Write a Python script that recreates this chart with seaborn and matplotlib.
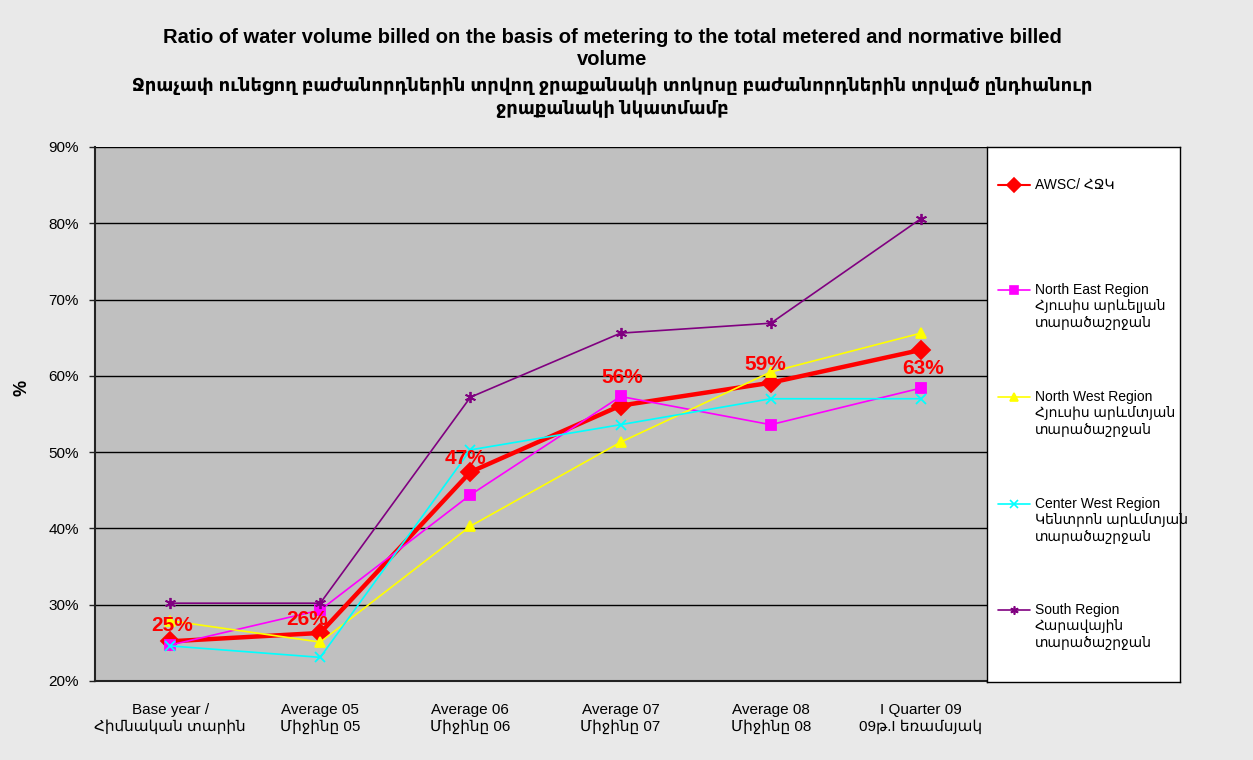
"""
Ratio of metered billed water volume to total billed volume, by region.
"""

import pandas as pd
import matplotlib
matplotlib.use("Agg")
import matplotlib.pyplot as plt
import seaborn as sns


# Datos
categories = [
    "Base year /\nՀիմնական տարին",
    "Average 05\nՄիջինը 05",
    "Average 06\nՄիջինը 06",
    "Average 07\nՄիջինը 07",
    "Average 08\nՄիջինը 08",
    "I Quarter 09\n09թ.I եռամսյակ",
]
awsc = [25.2, 26.3, 47.4, 56.1, 59.1, 63.4]
north_east = [24.7, 29.3, 44.4, 57.3, 53.6, 58.4]
north_west = [27.9, 25.1, 40.3, 51.3, 60.5, 65.6]
center_west = [24.6, 23.1, 50.3, 53.6, 57.0, 57.0]
south = [30.2, 30.2, 57.2, 65.6, 66.9, 80.6]
awsc_labels = ["25%", "26%", "47%", "56%", "59%", "63%"]

series_names = [
    "AWSC/ ՀՋԿ",
    "North East Region\nՀյուսիս արևելյան\nտարածաշրջան",
    "North West Region\nՀյուսիս արևմտյան\nտարածաշրջան",
    "Center West Region\nԿենտրոն արևմտյան\nտարածաշրջան",
    "South Region\nՀարավային\nտարածաշրջան",
]
series_values = [awsc, north_east, north_west, center_west, south]

TITLE_EN = ("Ratio of water volume billed on the basis of metering to the total metered and normative billed\n"
            "volume")
TITLE_HY = ("Ջրաչափ ունեցող բաժանորդներին տրվող ջրաքանակի տոկոսը բաժանորդներին տրված ընդհանուր\n"
            "ջրաքանակի նկատմամբ")

# Estilos
styles = [
    dict(color="#FF0000", marker="D", lw=3.2, ms=9),
    dict(color="#FF00FF", marker="s", lw=1.2, ms=7),
    dict(color="#FFFF00", marker="^", lw=1.2, ms=7),
    dict(color="#00FFFF", marker="x", lw=1.2, ms=7),
    dict(color="#800080", marker=(6, 2, 0), lw=1.2, ms=8),
]
# desplazamiento de etiquetas (px) respecto al punto
label_offsets = [(2, 16), (-13, 13), (-5, 13), (2, 28), (-5, 18), (2, -19)]
# posición vertical (px) de cada entrada de la leyenda
legend_rows = [185, 290, 397, 504, 610]

sns.set_style("white")
plt.rcParams["font.family"] = ["Liberation Sans", "DejaVu Sans"]
plt.rcParams["text.color"] = "black"
plt.rcParams["axes.labelcolor"] = "black"
plt.rcParams["xtick.color"] = "black"
plt.rcParams["ytick.color"] = "black"

fig = plt.figure(figsize=(12.53, 7.6), dpi=100, facecolor="#e9e9e9")
ax = fig.add_axes([95 / 1253, 1 - 681 / 760, 901 / 1253, 534 / 760])
ax.set_facecolor("#C0C0C0")

for name, vals, st in zip(series_names, series_values, styles):
    df = pd.DataFrame({"cat": categories, "val": vals})
    sns.lineplot(data=df, x="cat", y="val", ax=ax, color=st["color"],
                 marker=st["marker"], markersize=st["ms"], linewidth=st["lw"],
                 markeredgecolor=st["color"], markeredgewidth=1.3,
                 sort=False, legend=False)

for i, (v, txt) in enumerate(zip(awsc, awsc_labels)):
    dx, dy = label_offsets[i]
    ax.annotate(txt, (i, v), xytext=(dx * 0.72, dy * 0.72), textcoords="offset points",
                ha="center", va="center", color="#FF0000", fontsize=15,
                fontweight="bold")

ax.set_xlim(-0.5, 5.5)
ax.set_ylim(20, 90)
ax.set_yticks(range(20, 91, 10))
ax.set_yticklabels([f"{t}%" for t in range(20, 91, 10)], fontsize=11)
ax.set_xticks(range(len(categories)))
ax.set_xticklabels(categories, fontsize=11)
ax.set_xticks([x - 0.5 for x in range(len(categories) + 1)], minor=True)
ax.tick_params(axis="x", which="major", length=0, pad=16)
ax.tick_params(axis="x", which="minor", length=5, width=1, direction="out", color="#222222")
ax.tick_params(axis="y", length=4.5, width=1, direction="out", color="#222222", left=True, pad=7)
ax.grid(axis="y", color="black", linewidth=1)
ax.set_axisbelow(True)
for s in ["top", "right"]:
    ax.spines[s].set_visible(False)
for s in ["left", "bottom"]:
    ax.spines[s].set_color("#222222")
    ax.spines[s].set_linewidth(1.5)
ax.set_xlabel("")
ax.set_ylabel("%", fontsize=13, fontweight="bold")
ax.yaxis.set_label_coords(-0.072, 0.549)

fig.text(612 / 1253, 1 - 48.5 / 760, TITLE_EN, ha="center", va="center",
         fontsize=14.5, fontweight="bold", linespacing=1.25)
fig.text(612 / 1253, 1 - 97.5 / 760, TITLE_HY, ha="center", va="center",
         fontsize=13, fontweight="bold", linespacing=1.35)

# Leyenda
lax = fig.add_axes([987 / 1253, 1 - 682 / 760, 193 / 1253, 535 / 760])
lax.set_xlim(987, 1180)
lax.set_ylim(682, 147)
lax.set_xticks([])
lax.set_yticks([])
for s in lax.spines.values():
    s.set_color("black")
    s.set_linewidth(1)
lax.set_facecolor("white")
for name, st, yrow in zip(series_names, styles, legend_rows):
    lax.plot([998, 1030], [yrow, yrow], color=st["color"], linewidth=min(st["lw"], 1.5))
    lax.plot([1014], [yrow], color=st["color"], marker=st["marker"],
             markersize=st["ms"] * 0.75, markeredgecolor=st["color"], markeredgewidth=1.2)
    lax.text(1035, yrow - 7, name, ha="left", va="top", fontsize=10, linespacing=1.22)

plt.savefig("out.png", dpi=100, facecolor=fig.get_facecolor())
